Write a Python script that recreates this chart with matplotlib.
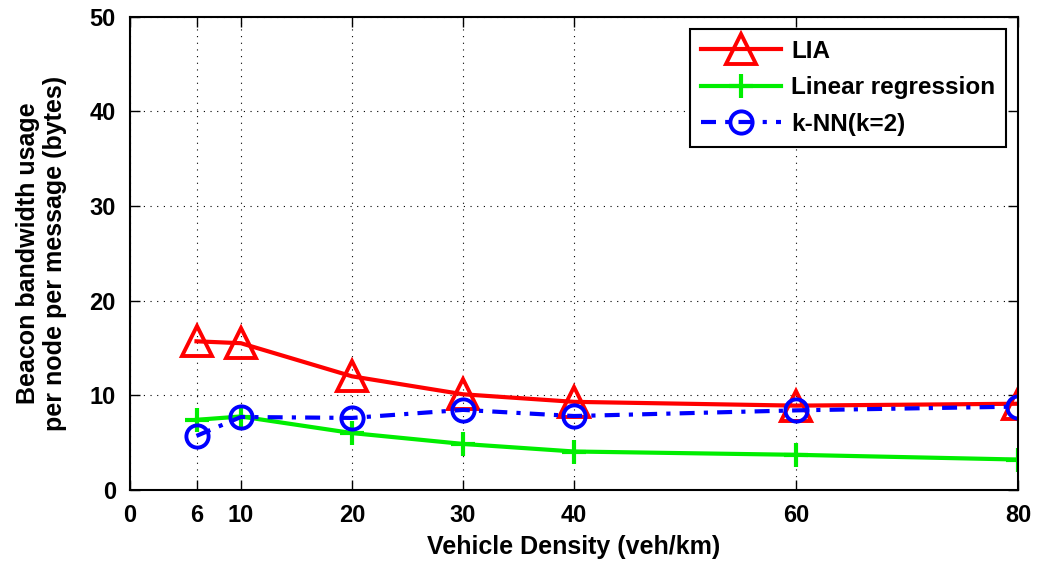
import matplotlib
matplotlib.use("Agg")
import matplotlib.pyplot as plt

density = [6, 10, 20, 30, 40, 60, 80]
lia = [15.7, 15.5, 12.0, 10.1, 9.3, 8.9, 9.1]
linear_reg = [7.4, 7.75, 6.0, 4.85, 4.05, 3.7, 3.2]
knn = [5.7, 7.7, 7.6, 8.45, 7.8, 8.4, 8.8]
x_ticks = [0, 6, 10, 20, 30, 40, 60, 80]
y_ticks = [0, 10, 20, 30, 40, 50]

plt.rcParams['font.family'] = ['Liberation Sans', 'DejaVu Sans']
plt.rcParams['font.weight'] = 'bold'

fig = plt.figure(figsize=(10.39, 5.63), dpi=100)
ax = fig.add_axes([0.125, 0.13, 0.855, 0.84])

ax.plot(density, lia, color='#ff0000', lw=3, marker='^', markersize=22,
        markerfacecolor='none', markeredgewidth=2.8, label='LIA')
ax.plot(density, linear_reg, color='#00ee00', lw=3, marker='+', markersize=17,
        markeredgewidth=3, label='Linear regression')
ax.plot(density, knn, color='#0000ff', lw=3, linestyle=(0, (3.6, 2.2, 1.0, 2.2)),
        marker='o', markersize=16, markerfacecolor='none', markeredgewidth=2.8,
        label='k-NN(k=2)')

ax.set_xlim(0, 80)
ax.set_ylim(0, 50)
ax.set_xticks(x_ticks)
ax.set_yticks(y_ticks)
ax.grid(True, color='black', linestyle=(0, (1, 5)), linewidth=0.8)
ax.tick_params(direction='in', length=7, width=1, top=True, right=True,
               labelsize=17, pad=10)
for lbl in ax.get_xticklabels() + ax.get_yticklabels():
    lbl.set_fontweight('bold')
for sp in ax.spines.values():
    sp.set_linewidth(1.5)

ax.set_xlabel('Vehicle Density (veh/km)', fontsize=18, fontweight='bold', labelpad=6)
ax.set_ylabel('Beacon bandwidth usage\nper node per message (bytes)', fontsize=18,
              fontweight='bold', labelpad=16)

leg = ax.legend(loc='upper right', fontsize=17.5, frameon=True, fancybox=False,
                edgecolor='black', framealpha=1, handlelength=3.3,
                borderaxespad=0.5, labelspacing=0.55, handletextpad=0.4,
                borderpad=0.45)
leg.get_frame().set_linewidth(1.5)
for t in leg.get_texts():
    t.set_fontweight('bold')

fig.savefig('out.png', dpi=100)
